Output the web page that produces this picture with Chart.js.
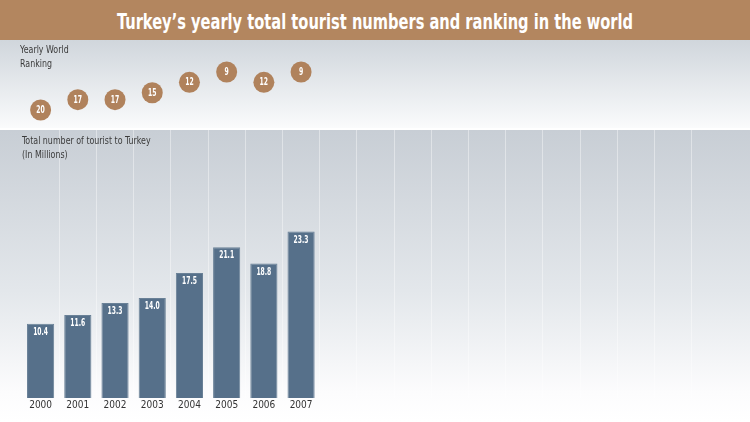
<!DOCTYPE html>
<html>
<head>
<meta charset="utf-8">
<script src="https://cdn.jsdelivr.net/npm/chart.js@4.4.1/dist/chart.umd.min.js"></script>
<style>
  html, body { margin: 0; padding: 0; width: 750px; height: 422px; overflow: hidden; background: #fff; }
  #title { position: absolute; left: 0; top: 0; width: 750px; height: 40px; background: #b3865f; }
  #title span { position: absolute; left: 0; top: 5px; width: 750px; text-align: center; color: #fff;
                font-family: "DejaVu Sans Condensed", "Liberation Sans Narrow", sans-serif;
                font-weight: bold; font-size: 22px; line-height: 34px; white-space: nowrap;
                transform: scaleX(0.74); transform-origin: 375px 50%; }
  #wrap { position: absolute; left: 0; top: 40px; width: 750px; height: 382px; }
  .lbl { position: absolute; font-family: "DejaVu Sans Condensed", "Liberation Sans Narrow", sans-serif;
         font-size: 11px; line-height: 13.5px; color: #3a3a3a; white-space: nowrap;
         transform: scaleX(0.8); transform-origin: 0 0; }
</style>
</head>
<body>
<div id="title"><span>Turkey’s yearly total tourist numbers and ranking in the world</span></div>
<div id="wrap"><canvas id="c" width="750" height="382"></canvas></div>
<div class="lbl" style="left:20px; top:43px;">Yearly World<br>Ranking</div>
<div class="lbl" style="left:22px; top:134px;">Total number of tourist to Turkey<br>(In Millions)</div>
<script>
const years = ['2000', '2001', '2002', '2003', '2004', '2005', '2006', '2007'];
const tourists = [10.4, 11.6, 13.3, 14.0, 17.5, 21.1, 18.8, 23.3];
const ranking = [20, 17, 17, 15, 12, 9, 12, 9];
const emptySlots = 11;

const labels = years.concat(Array(emptySlots).fill(''));
const barData = tourists.concat(Array(emptySlots).fill(null));
const rankData = ranking.concat(Array(emptySlots).fill(null));

const FONT = '"DejaVu Sans Condensed", "Liberation Sans Narrow", sans-serif';

const bgPlugin = {
  id: 'bg',
  beforeDraw(chart) {
    const ctx = chart.ctx, w = chart.width, h = chart.height;
    ctx.save();
    const g = ctx.createLinearGradient(0, 90, 0, h);
    g.addColorStop(0, '#c8ced5');
    g.addColorStop(0.55, '#e3e7eb');
    g.addColorStop(0.9, '#fcfcfd');
    g.addColorStop(1, '#ffffff');
    ctx.fillStyle = g;
    ctx.fillRect(0, 0, w, h);
    ctx.restore();
  },
  beforeDatasetsDraw(chart) {
    const ctx = chart.ctx, w = chart.width;
    ctx.save();
    const g = ctx.createLinearGradient(0, 0, 0, 88);
    g.addColorStop(0, '#d0d6dc');
    g.addColorStop(1, '#fafbfc');
    ctx.fillStyle = g;
    ctx.fillRect(0, 0, w, 88);
    ctx.fillStyle = '#ffffff';
    ctx.fillRect(0, 88, w, 2);
    ctx.restore();
  }
};

function drawNarrow(ctx, text, x, y, sx) {
  ctx.save();
  ctx.translate(x, y);
  ctx.scale(sx, 1);
  ctx.fillText(text, 0, 0);
  ctx.restore();
}

const labelPlugin = {
  id: 'vals',
  afterDatasetsDraw(chart) {
    const ctx = chart.ctx;
    ctx.save();
    ctx.fillStyle = '#ffffff';
    ctx.textAlign = 'center';
    ctx.textBaseline = 'middle';
    ctx.font = 'bold 10.5px ' + FONT;
    chart.getDatasetMeta(0).data.forEach((el, i) => {
      const v = tourists[i];
      if (v == null) return;
      drawNarrow(ctx, v.toFixed(1), el.x, el.y + 8.5, 0.64);
    });
    ctx.font = 'bold 10px ' + FONT;
    chart.getDatasetMeta(1).data.forEach((el, i) => {
      const v = ranking[i];
      if (v == null) return;
      drawNarrow(ctx, String(v), el.x, el.y + 0.5, 0.68);
    });
    ctx.restore();
  }
};

new Chart(document.getElementById('c'), {
  data: {
    labels: labels,
    datasets: [
      {
        type: 'bar',
        data: barData,
        backgroundColor: '#56708a',
        borderColor: '#6a8197',
        borderWidth: 1,
        categoryPercentage: 1,
        barPercentage: 0.73,
        yAxisID: 'y',
        order: 2
      },
      {
        type: 'line',
        data: rankData,
        showLine: false,
        pointRadius: 10.5,
        pointHoverRadius: 10.5,
        pointBackgroundColor: '#b0825c',
        pointBorderWidth: 0,
        yAxisID: 'y2',
        order: 1
      }
    ]
  },
  options: {
    responsive: false,
    animation: false,
    events: [],
    layout: { autoPadding: false, padding: { left: 22, right: 21, top: 0, bottom: 0 } },
    plugins: { legend: { display: false }, tooltip: { enabled: false }, title: { display: false } },
    scales: {
      x: {
        offset: true,
        grid: {
          offset: true,
          drawTicks: false,
          color: (c) => ((c.index === undefined || c.index === 0 || c.index >= labels.length) ? 'rgba(0,0,0,0)' : 'rgba(255,255,255,0.4)'),
          lineWidth: 1
        },
        border: { display: false },
        ticks: { color: '#333333', font: { family: FONT, size: 10 }, padding: 1, autoSkip: false, maxRotation: 0 },
        afterFit(s) { s.height = 24; }
      },
      y: { display: false, min: 0, max: 50.07 },
      y2: { display: false, reverse: true, min: -0.263, max: 103.37 }
    }
  },
  plugins: [bgPlugin, labelPlugin]
});
</script>
</body>
</html>
